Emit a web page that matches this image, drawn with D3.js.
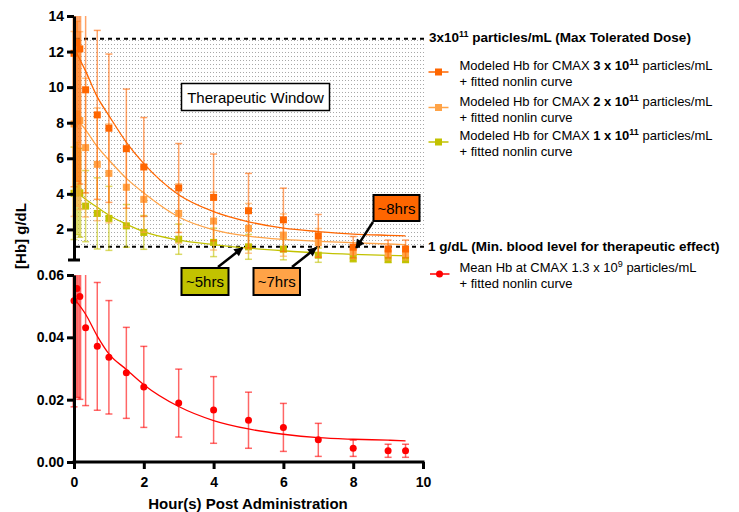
<!DOCTYPE html>
<html><head><meta charset="utf-8">
<script src="https://cdn.jsdelivr.net/npm/d3@7"></script>
<style>
body{margin:0;background:#fff}
svg{display:block}
text{font-family:"Liberation Sans",Arial,Helvetica,sans-serif;fill:#000}
</style>
</head><body>
<svg id="chart" width="739" height="512"></svg>
<script>
// ---------- DATA ----------
const hours = [0, 0.083, 0.167, 0.333, 0.667, 1, 1.5, 2, 3, 4, 5, 6, 7, 8, 9, 9.5];

const hb3   = [11.9, 12.5, 12.15, 9.85, 8.44, 7.69, 6.54, 5.51, 4.33, 3.80, 3.05, 2.54, 1.64, 1.0, 0.9, 0.9];
const hb3SD = [7.5, 7.8, 7.6, 5.8, 4.75, 4.17, 3.35, 2.78, 2.5, 2.44, 2.1, 1.78, 1.2, 0.6, 0.5, 0.5];
const hb2   = [7.93, 8.5, 8.12, 6.6, 5.66, 5.15, 4.37, 3.69, 2.90, 2.47, 2.06, 1.68, 1.25, 0.74, 0.65, 0.65];
const hb2SD = [5.2, 5.2, 5.0, 3.9, 3.17, 2.78, 2.23, 1.85, 1.67, 1.63, 1.4, 1.19, 0.8, 0.4, 0.37, 0.37];
const hb1   = [4.03, 4.3, 4.06, 3.31, 2.90, 2.62, 2.20, 1.83, 1.45, 1.27, 1.02, 0.89, 0.55, 0.37, 0.31, 0.31];
const hb1SD = [2.6, 2.6, 2.5, 2.0, 2.0, 1.8, 1.2, 0.95, 0.85, 0.8, 0.7, 0.6, 0.4, 0.2, 0.18, 0.18];

const hbLow   = [0.0517, 0.0557, 0.0531, 0.0431, 0.0371, 0.0336, 0.0286, 0.0241, 0.0189, 0.0167, 0.0134, 0.0111, 0.0071, 0.0044, 0.0036, 0.0036];
const hbLowSD = [0.034, 0.035, 0.033, 0.025, 0.0205, 0.0182, 0.0146, 0.013, 0.0109, 0.0107, 0.009, 0.0077, 0.0053, 0.0026, 0.0021, 0.0021];

// fitted nonlinear curves
const fitHours = [0, 0.333, 0.667, 1, 1.5, 2, 3, 4, 5, 6, 7, 8, 9, 9.5];
const hb3Fit = [12.2, 10.9, 9.45, 8.4, 6.9, 5.7, 3.95, 3.0, 2.43, 2.07, 1.88, 1.74, 1.67, 1.64];
const hb2Fit = [8.4, 7.6, 6.65, 5.9, 4.87, 4.05, 2.7, 1.98, 1.62, 1.44, 1.33, 1.25, 1.18, 1.15];
const hb1Fit = [4.2, 3.7, 3.24, 2.8, 2.3, 1.87, 1.4, 1.15, 0.95, 0.8, 0.68, 0.6, 0.54, 0.52];
const hbLowFit = [0.0525, 0.0474, 0.0404, 0.0347, 0.0297, 0.0248, 0.0178, 0.0133, 0.0106, 0.0089, 0.0078, 0.0073, 0.0070, 0.0068];

const maxDoseLevel = 12.72;   // 3x10^11 particles/mL (Max Tolerated Dose)
const minLevel = 1.02;        // 1 g/dL (Min. blood level)

const xTicks = [0, 2, 4, 6, 8, 10];
const topTicks = [2, 4, 6, 8, 10, 12, 14];
const bottomTicks = [0, 0.02, 0.04, 0.06];

const annotHours = [5, 7, 8];
const annotLabels = ["~5hrs", "~7hrs", "~8hrs"];

// ---------- STYLE ----------
const C3 = "#FF6600", C2 = "#FFA347", C1 = "#C2C200", CR = "#FF0000";

const svg = d3.select("#chart");
const x  = d3.scaleLinear().domain([0, 10]).range([74, 423]);
const yT = d3.scaleLinear().domain([0.28, 14]).range([260, 16]);
const yB = d3.scaleLinear().domain([0, 0.06]).range([462, 275]);

const defs = svg.append("defs");
const pat = defs.append("pattern").attr("id", "dots").attr("width", 3).attr("height", 4)
  .attr("patternUnits", "userSpaceOnUse");
pat.append("rect").attr("width", 1).attr("height", 1).attr("fill", "#a8a8a8");
defs.append("clipPath").attr("id", "clipT").append("rect")
  .attr("x", 55).attr("y", yT(14)).attr("width", 380).attr("height", 264 - yT(14));
defs.append("clipPath").attr("id", "clipB").append("rect")
  .attr("x", 55).attr("y", yB(0.06)).attr("width", 380).attr("height", 200);
defs.append("marker").attr("id", "arrow").attr("viewBox", "0 0 10 10")
  .attr("refX", 9).attr("refY", 5).attr("markerWidth", 10).attr("markerHeight", 9)
  .attr("markerUnits", "userSpaceOnUse").attr("orient", "auto")
  .append("path").attr("d", "M0,0 L10,5 L0,10 Z").attr("fill", "#000");

// therapeutic window
svg.append("rect").attr("x", x(0)).attr("y", yT(maxDoseLevel))
  .attr("width", x(10) + 2 - x(0)).attr("height", yT(minLevel) - yT(maxDoseLevel))
  .attr("fill", "url(#dots)");
[maxDoseLevel, minLevel].forEach(v => {
  svg.append("line").attr("x1", x(0) + 2).attr("x2", x(10) + 2)
    .attr("y1", yT(v)).attr("y2", yT(v))
    .attr("stroke", "#000").attr("stroke-width", 2).attr("stroke-dasharray", "4,4");
});

// ---------- series drawing ----------
function drawSeries(g, ys, vals, sds, fit, color, shape) {
  const pts = hours.map((h, i) => ({h, v: vals[i], sd: sds[i]}));
  const eb = g.append("g").attr("stroke", color).attr("stroke-opacity", 0.6).attr("fill", "none");
  pts.forEach(p => {
    const y1 = ys(p.v - p.sd), y2 = ys(p.v + p.sd), cx = x(p.h);
    eb.append("line").attr("x1", cx).attr("x2", cx).attr("y1", y1).attr("y2", y2)
      .attr("stroke-width", p.h < 0.2 ? 3 : 1.5);
    [y1, y2].forEach(yy => eb.append("line").attr("x1", cx - 3.5).attr("x2", cx + 3.5)
      .attr("y1", yy).attr("y2", yy).attr("stroke-width", 1.5));
  });
  const line = d3.line().x((d, i) => x(fitHours[i])).y(d => ys(d)).curve(d3.curveMonotoneX);
  g.append("path").datum(fit).attr("d", line).attr("fill", "none")
    .attr("stroke", color).attr("stroke-width", 1.3);
  if (shape === "square") {
    g.selectAll(null).data(pts).join("rect")
      .attr("x", d => x(d.h) - 3.5).attr("y", d => ys(d.v) - 3.5)
      .attr("width", 7).attr("height", 7).attr("fill", color);
  } else {
    g.selectAll(null).data(pts).join("circle")
      .attr("cx", d => x(d.h)).attr("cy", d => ys(d.v)).attr("r", 3.5).attr("fill", color);
  }
}
const gT = svg.append("g").attr("clip-path", "url(#clipT)");
drawSeries(gT.append("g"), yT, hb1, hb1SD, hb1Fit, C1, "square");
drawSeries(gT.append("g"), yT, hb2, hb2SD, hb2Fit, C2, "square");
drawSeries(gT.append("g"), yT, hb3, hb3SD, hb3Fit, C3, "square");
const gB = svg.append("g").attr("clip-path", "url(#clipB)");
drawSeries(gB.append("g"), yB, hbLow, hbLowSD, hbLowFit, CR, "circle");

// ---------- axes ----------
function styleAxis(g, fs) {
  g.select(".domain").attr("stroke", "#000").attr("stroke-width", 3);
  g.selectAll(".tick line").attr("stroke", "#000").attr("stroke-width", 3);
  g.selectAll(".tick text").attr("font-size", fs).attr("font-weight", "bold")
    .attr("font-family", '"Liberation Sans",Arial,sans-serif').attr("fill", "#000");
}
const axT = svg.append("g").attr("transform", `translate(${x(0)},0)`)
  .call(d3.axisLeft(yT).tickValues(topTicks).tickSize(7).tickSizeOuter(0).tickPadding(3).tickFormat(d3.format("d")));
styleAxis(axT, 14);
svg.append("line").attr("x1", x(0) - 6).attr("x2", x(0) + 6).attr("y1", yT.range()[0]).attr("y2", yT.range()[0])
  .attr("stroke", "#000").attr("stroke-width", 3);
const axB = svg.append("g").attr("transform", `translate(${x(0)},0)`)
  .call(d3.axisLeft(yB).tickValues(bottomTicks).tickSize(7).tickSizeOuter(0).tickPadding(3).tickFormat(d3.format(".2f")));
styleAxis(axB, 14);
const axX = svg.append("g").attr("transform", `translate(0,${yB(0)})`)
  .call(d3.axisBottom(x).tickValues(xTicks).tickSize(7).tickSizeOuter(0).tickPadding(8).tickFormat(d3.format("d")));
styleAxis(axX, 14);
axX.select(".domain").attr("d", `M${x(0) - 1.5},0H${x(10) + 1.5}`);

svg.append("text").attr("x", 248).attr("y", 509).attr("text-anchor", "middle")
  .attr("font-size", 15).attr("font-weight", "bold").text("Hour(s) Post Administration");
svg.append("text").attr("transform", "translate(26,236) rotate(-90)").attr("text-anchor", "middle")
  .attr("font-size", 15).attr("font-weight", "bold").text("[Hb] g/dL");

// ---------- annotations ----------
svg.append("rect").attr("x", 181.5).attr("y", 83.5).attr("width", 148).attr("height", 27)
  .attr("fill", "#fff").attr("stroke", "#000").attr("stroke-width", 1.5);
svg.append("text").attr("x", 255.5).attr("y", 102.5).attr("text-anchor", "middle")
  .attr("font-size", 15).text("Therapeutic Window");

const annotBoxes = [
  {box: [181.5, 268, 47, 27], from: [218, 267], dx: -6, fill: C1},
  {box: [253.5, 268, 46.5, 27], from: [292, 267], dx: -2, fill: C2},
  {box: [373.5, 195, 46, 26], from: [373, 222], dx: 3, fill: C3}
];
annotBoxes.forEach((a, i) => {
  svg.append("line").attr("x1", a.from[0]).attr("y1", a.from[1])
    .attr("x2", x(annotHours[i]) + a.dx).attr("y2", yT(minLevel) + 1)
    .attr("stroke", "#000").attr("stroke-width", 2.5).attr("marker-end", "url(#arrow)");
  svg.append("rect").attr("x", a.box[0]).attr("y", a.box[1]).attr("width", a.box[2]).attr("height", a.box[3])
    .attr("fill", a.fill).attr("stroke", "#000").attr("stroke-width", 2);
  svg.append("text").attr("x", a.box[0] + a.box[2] / 2).attr("y", a.box[1] + a.box[3] / 2 + 5.5)
    .attr("text-anchor", "middle").attr("font-size", 15).text(annotLabels[i]);
});

// ---------- legend ----------
function sup(t, base, supTxt, bold) {
  t.append("tspan").attr("font-size", 9).attr("dy", -5).attr("font-weight", bold ? "bold" : null).text(supTxt);
  t.append("tspan").attr("dy", 5).text("\u200B");
}
// titles for reference lines
let t = svg.append("text").attr("x", 429).attr("y", 42).attr("font-size", 13.5).attr("font-weight", "bold");
t.append("tspan").text("3x10");
t.append("tspan").attr("font-size", 9).attr("dy", -5).text("11");
t.append("tspan").attr("dy", 5).text(" particles/mL (Max Tolerated Dose)");

svg.append("text").attr("x", 428).attr("y", 251).attr("font-size", 13.5).attr("font-weight", "bold")
  .text("1 g/dL (Min. blood level for therapeutic effect)");

const legendEntries = [
  {color: C3, dose: "3 x 10", exp: "11", y: 70},
  {color: C2, dose: "2 x 10", exp: "11", y: 105.5},
  {color: C1, dose: "1 x 10", exp: "11", y: 140}
];
legendEntries.forEach(e => {
  svg.append("line").attr("x1", 428.5).attr("x2", 448.5).attr("y1", e.y + 2).attr("y2", e.y + 2)
    .attr("stroke", e.color).attr("stroke-width", 1.5);
  svg.append("rect").attr("x", 435).attr("y", e.y + 2 - 3.5).attr("width", 7).attr("height", 7).attr("fill", e.color);
  const tx = svg.append("text").attr("x", 459.5).attr("y", e.y).attr("font-size", 13);
  tx.append("tspan").text("Modeled Hb for CMAX ");
  tx.append("tspan").attr("font-weight", "bold").text(e.dose);
  tx.append("tspan").attr("font-weight", "bold").attr("font-size", 9).attr("dy", -5).text(e.exp);
  tx.append("tspan").attr("dy", 5).text(" particles/mL");
  svg.append("text").attr("x", 459.5).attr("y", e.y + 16).attr("font-size", 13).text("+ fitted nonlin curve");
});
// red entry
svg.append("line").attr("x1", 430).attr("x2", 449.5).attr("y1", 274).attr("y2", 274)
  .attr("stroke", CR).attr("stroke-width", 1.5);
svg.append("circle").attr("cx", 439.5).attr("cy", 274).attr("r", 3.5).attr("fill", CR);
t = svg.append("text").attr("x", 459.5).attr("y", 272).attr("font-size", 13);
t.append("tspan").text("Mean Hb at CMAX 1.3 x 10");
t.append("tspan").attr("font-size", 9).attr("dy", -5).text("9");
t.append("tspan").attr("dy", 5).text(" particles/mL");
svg.append("text").attr("x", 459.5).attr("y", 288).attr("font-size", 13).text("+ fitted nonlin curve");
</script>
</body></html>
